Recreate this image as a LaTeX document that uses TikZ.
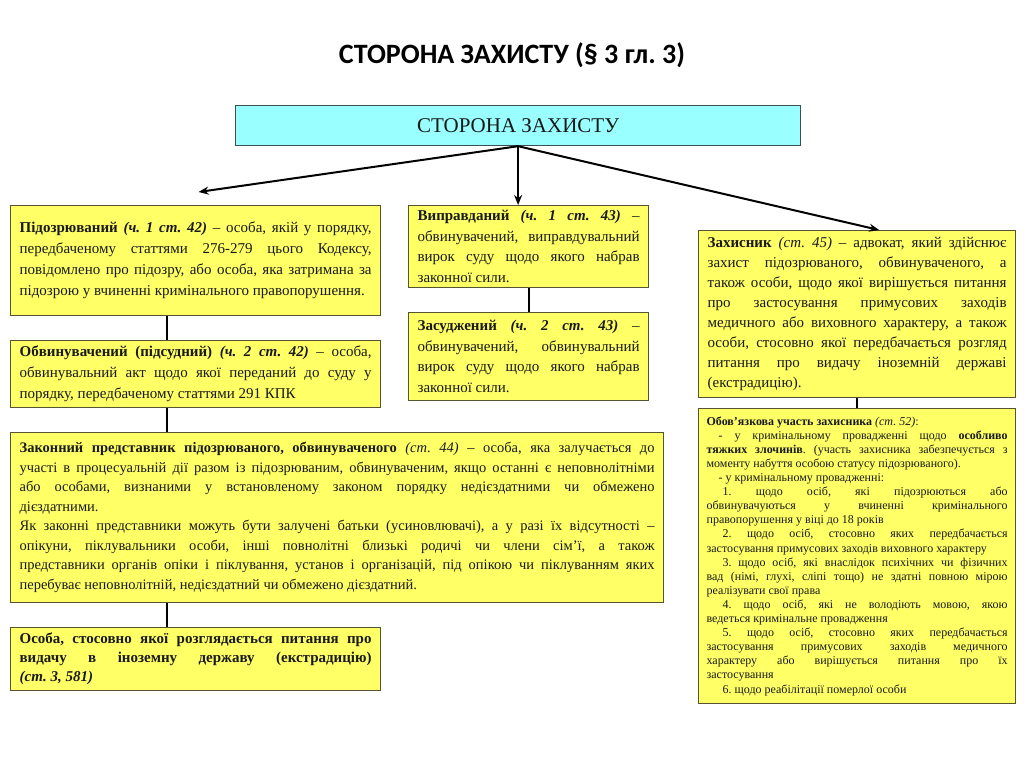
\documentclass[tikz,border=0pt]{standalone}
\usepackage{fontspec}
\setmainfont{Liberation Serif}
\newfontfamily\headfont{Carlito}
\usepackage{xcolor}
\usepackage{tikz}
\usetikzlibrary{arrows.meta, positioning, calc}
\definecolor{DefYellow}{RGB}{255, 255, 102}
\definecolor{DefCyan}{RGB}{153, 255, 255}
\definecolor{DefLine}{RGB}{85, 85, 50}
\definecolor{DefCyanLine}{RGB}{60, 80, 80}
\definecolor{DefText}{RGB}{25, 25, 25}
\hbadness=10000
\frenchspacing
\setlength{\parindent}{0pt}
\tikzset{
  rolebox/.style={draw=DefLine, line width=1.2pt, fill=DefYellow, anchor=north west,
    align=justify, inner xsep=9pt, inner ysep=4pt, text=DefText,
    font=\fontsize{15}{21}\selectfont},
  dutybox/.style={rolebox, inner xsep=8pt, font=\fontsize{12}{14.1}\selectfont},
  branch/.style={line width=2pt, -{Stealth[length=10pt, width=8pt]}},
  link/.style={line width=2.2pt}
}

\begin{document}
\begin{tikzpicture}[x=1pt, y=-1pt]
    \path[use as bounding box] (0,0) rectangle (1024,768);
    \node[font=\headfont\bfseries\fontsize{28}{32}\selectfont] (title) at (512,55) {СТОРОНА ЗАХИСТУ (§ 3 гл. 3)};
    \node[draw=DefCyanLine, line width=1.2pt, fill=DefCyan, anchor=north west, minimum width=565pt,
      minimum height=40pt, text=DefText, font=\fontsize{21}{24}\selectfont] (side) at (235,105) {СТОРОНА ЗАХИСТУ};

    % left column
    \node[rolebox, text width=352pt, minimum height=110pt] (suspect) at (10,205) {
      {\bfseries Підозрюваний \itshape (ч.~1 ст.~42)} – особа, якій у порядку,\linebreak
      передбаченому статтями 276-279 цього Кодексу,\linebreak
      повідомлено про підозру, або особа, яка затримана за\linebreak
      підозрою у вчиненні кримінального правопорушення.};
    \node[rolebox, text width=352pt, minimum height=67pt] (accused) at (10,340) {
      {\bfseries Обвинувачений (підсудний) \itshape (ч.~2 ст.~42)} – особа,\linebreak
      обвинувальний акт щодо якої переданий до суду у\linebreak
      порядку, передбаченому статтями 291 КПК};
    \node[rolebox, text width=635pt, minimum height=170pt, font=\fontsize{14.5}{19.5}\selectfont] (legal) at (10,432) {
      {\bfseries Законний представник підозрюваного, обвинуваченого} {\itshape (ст.~44)} – особа, яка залучається до\linebreak
      участі в процесуальній дії разом із підозрюваним, обвинуваченим, якщо останні є неповнолітніми\linebreak
      або особами, визнаними у встановленому законом порядку недієздатними чи обмежено\linebreak
      дієздатними.\par
      Як законні представники можуть бути залучені батьки (усиновлювачі), а у разі їх відсутності –\linebreak
      опікуни, піклувальники особи, інші повнолітні близькі родичі чи члени сім’ї, а також\linebreak
      представники органів опіки і піклування, установ і організацій, під опікою чи піклуванням яких\linebreak
      перебуває неповнолітній, недієздатний чи обмежено дієздатний.};
    \node[rolebox, text width=352pt, minimum height=63pt, font=\bfseries\fontsize{15}{19}\selectfont] (extradited) at (10,627) {
      Особа, стосовно якої розглядається питання про\linebreak
      видачу в іноземну державу (екстрадицію)\linebreak
      {\itshape (ст.~3, 581)}};

    % middle column
    \node[rolebox, text width=222pt, minimum height=82pt, font=\fontsize{15}{20.5}\selectfont] (acquitted) at (408,205) {
      {\bfseries Виправданий \itshape (ч.~1 ст.~43)} –\linebreak
      обвинувачений, виправдувальний\linebreak
      вирок суду щодо якого набрав\linebreak
      законної сили.};
    \node[rolebox, text width=222pt, minimum height=88pt, font=\fontsize{15}{20.5}\selectfont] (convicted) at (408,312) {
      {\bfseries Засуджений \itshape (ч.~2 ст.~43)} –\linebreak
      обвинувачений, обвинувальний\linebreak
      вирок суду щодо якого набрав\linebreak
      законної сили.};

    % right column
    \node[rolebox, text width=299pt, minimum height=167pt, font=\fontsize{15}{20}\selectfont] (counsel) at (698,230) {
      {\bfseries Захисник} {\itshape (ст.~45)} – адвокат, який здійснює\linebreak
      захист підозрюваного, обвинуваченого, а\linebreak
      також особи, щодо якої вирішується питання\linebreak
      про застосування примусових заходів\linebreak
      медичного або виховного характеру, а також\linebreak
      особи, стосовно якої передбачається розгляд\linebreak
      питання про видачу іноземній державі\linebreak
      (екстрадицію).};
    \node[dutybox, text width=301pt, minimum height=295pt] (duty) at (698,408) {
      {\bfseries Обов’язкова участь захисника} {\itshape (ст.~52)}:\par
      \hspace*{12pt}- у кримінальному провадженні щодо {\bfseries особливо\linebreak
      тяжких злочинів}. (участь захисника забезпечується з\linebreak
      моменту набуття особою статусу підозрюваного).\par
      \hspace*{12pt}- у кримінальному провадженні:\par
      \hspace*{16pt}1.~щодо осіб, які підозрюються або\linebreak
      обвинувачуються у вчиненні кримінального\linebreak
      правопорушення у віці до 18 років\par
      \hspace*{16pt}2.~щодо осіб, стосовно яких передбачається\linebreak
      застосування примусових заходів виховного характеру\par
      \hspace*{16pt}3.~щодо осіб, які внаслідок психічних чи фізичних\linebreak
      вад (німі, глухі, сліпі тощо) не здатні повною мірою\linebreak
      реалізувати свої права\par
      \hspace*{16pt}4.~щодо осіб, які не володіють мовою, якою\linebreak
      ведеться кримінальне провадження\par
      \hspace*{16pt}5.~щодо осіб, стосовно яких передбачається\linebreak
      застосування примусових заходів медичного\linebreak
      характеру або вирішується питання про їх\linebreak
      застосування\par
      \hspace*{16pt}6.~щодо реабілітації померлої особи};

    % connectors
    \coordinate (spine) at (167,0);
    \draw[branch] (side.south) -- ([xshift=3pt, yshift=13pt]suspect.north);
    \draw[branch] (side.south) -- (side.south |- acquitted.north);
    \draw[branch] (side.south) -- ([xshift=22pt]counsel.north);
    \draw[link] (suspect.south -| spine) -- (accused.north -| spine);
    \draw[link] (accused.south -| spine) -- (legal.north -| spine);
    \draw[link] (legal.south -| spine) -- (extradited.north -| spine);
    \draw[link] (acquitted) -- (convicted);
    \draw[link] (counsel) -- (duty);
\end{tikzpicture}
\end{document}
